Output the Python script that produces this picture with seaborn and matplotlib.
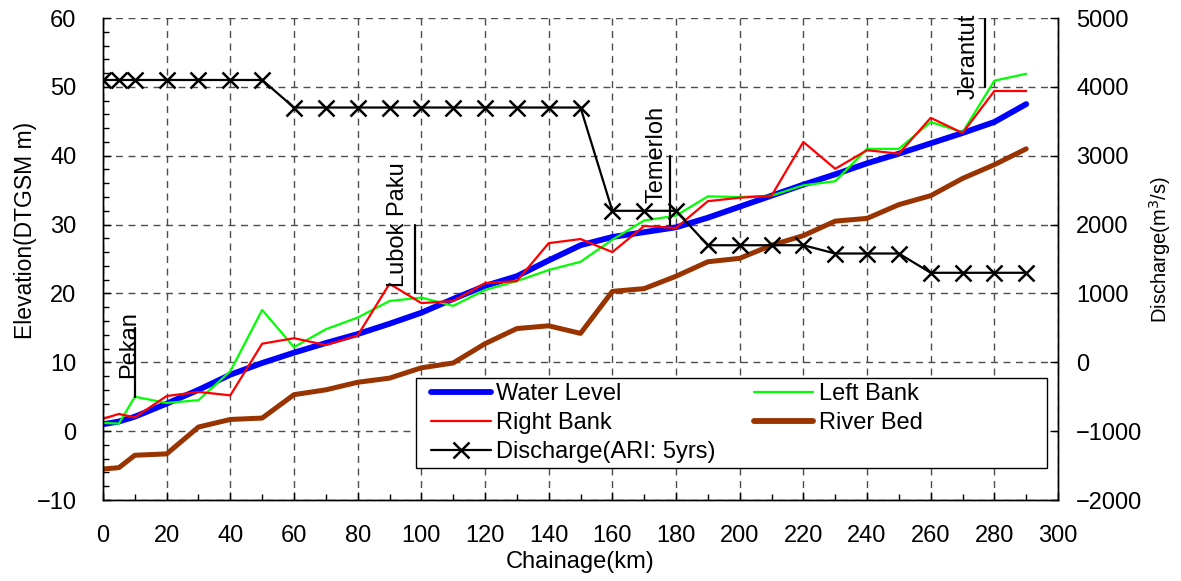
import numpy as np
import pandas as pd
import seaborn as sns
import matplotlib.pyplot as plt
from matplotlib.ticker import MultipleLocator
from matplotlib.lines import Line2D
from matplotlib.patches import Rectangle

# chainage (km) of the cross sections
chainage = [0, 5, 10, 20, 30, 40, 50, 60, 70, 80, 90, 100, 110, 120, 130, 140,
            150, 160, 170, 180, 190, 200, 210, 220, 230, 240, 250, 260, 270, 280, 290]

# elevations (DTGSM m)
water_level = [1.0, 1.4, 2.1, 4.0, 6.0, 8.2, 9.9, 11.4, 12.8, 14.1, 15.6, 17.2, 19.2, 21.1, 22.5, 24.8,
               27.0, 28.2, 28.9, 29.6, 31.0, 32.6, 34.2, 35.8, 37.3, 38.9, 40.3, 41.8, 43.3, 44.9, 47.5]
left_bank = [1.2, 1.1, 5.0, 4.1, 4.5, 8.7, 17.6, 12.2, 14.8, 16.5, 18.9, 19.4, 18.2, 20.5, 21.8, 23.4,
             24.6, 27.8, 30.6, 31.3, 34.1, 34.0, 34.2, 35.7, 36.3, 41.0, 41.0, 44.9, 43.4, 50.9, 51.9]
right_bank = [1.8, 2.5, 2.0, 5.1, 5.7, 5.2, 12.7, 13.5, 12.5, 13.9, 21.4, 18.6, 18.9, 21.5, 21.8, 27.3,
              27.9, 26.0, 29.8, 29.5, 33.4, 33.9, 34.2, 42.0, 38.1, 40.8, 40.3, 45.5, 43.3, 49.4, 49.4]
river_bed = [-5.5, -5.3, -3.5, -3.3, 0.6, 1.7, 1.9, 5.3, 6.0, 7.1, 7.7, 9.2, 9.9, 12.7, 14.9, 15.3,
             14.2, 20.3, 20.7, 22.5, 24.6, 25.1, 27.0, 28.4, 30.5, 30.9, 32.9, 34.2, 36.7, 38.7, 41.0]

# discharge (m3/s), ARI 5 years
discharge = [4100, 4100, 4100, 4100, 4100, 4100, 4100,
             3700, 3700, 3700, 3700, 3700, 3700, 3700, 3700, 3700, 3700,
             2200, 2200, 2200,
             1700, 1700, 1700, 1700,
             1580, 1580, 1580,
             1300, 1300, 1300, 1300]

# towns along the river
stations = ["Pekan", "Lubok Paku", "Temerloh", "Jerantut"]
station_km = [10, 98, 178, 277]
station_base = [5, 20, 30, 50]

df = pd.DataFrame({"Chainage": chainage, "Water Level": water_level, "Left Bank": left_bank,
                   "Right Bank": right_bank, "River Bed": river_bed, "Discharge": discharge})

sns.set_style("ticks")
plt.rcParams['font.family'] = ['Liberation Sans', 'DejaVu Sans']
plt.rcParams['text.color'] = 'black'
plt.rcParams['axes.labelcolor'] = 'black'
plt.rcParams['xtick.color'] = 'black'
plt.rcParams['ytick.color'] = 'black'

fig, ax = plt.subplots(figsize=(11.81, 5.81), dpi=100)
fig.subplots_adjust(left=0.0872, right=0.8959, top=0.969, bottom=0.1394)
ax2 = ax.twinx()

BROWN = "#993300"
sns.lineplot(data=df, x="Chainage", y="Water Level", ax=ax, color="#0000ff", lw=4.2, legend=False)
sns.lineplot(data=df, x="Chainage", y="Left Bank", ax=ax, color="#00ff00", lw=1.6, legend=False)
sns.lineplot(data=df, x="Chainage", y="Right Bank", ax=ax, color="#ff0000", lw=1.6, legend=False)
sns.lineplot(data=df, x="Chainage", y="River Bed", ax=ax, color=BROWN, lw=3.6, legend=False)
sns.lineplot(data=df, x="Chainage", y="Discharge", ax=ax2, color="black", lw=1.6, marker="x",
             markersize=12, markeredgewidth=1.8, markeredgecolor="black", legend=False)

# station markers
text_dx = [-1.8, -5.3, -4.1, -5.2]
text_y = [7.7, 20.9, 33.1, 48.3]
for i in range(len(stations)):
    ax.plot([station_km[i], station_km[i]], [station_base[i], station_base[i] + 10], color="black", lw=1.6)
    ax.text(station_km[i] + text_dx[i], text_y[i], stations[i], rotation=90, ha="center", va="bottom",
            fontsize=17, clip_on=False)

# axes
ax.set_xlim(0, 300)
ax.set_ylim(-10, 60)
ax2.set_ylim(-2000, 5000)
ax.set_xticks(range(0, 301, 20))
ax.set_yticks(range(-10, 61, 10))
ax2.set_yticks(range(-2000, 5001, 1000))
ax.xaxis.set_minor_locator(MultipleLocator(10))
ax.yaxis.set_minor_locator(MultipleLocator(2))

ax.grid(True, which="major", color="0.3", ls=(0, (5, 4)), lw=1)
ax.set_axisbelow(True)

ax.tick_params(which="both", direction="in", color="black", labelsize=17)
ax.tick_params(which="major", length=6, width=1)
ax.tick_params(which="minor", length=4, width=1)
ax.tick_params(axis="x", pad=18)
ax.tick_params(axis="y", pad=19)
ax2.tick_params(axis="y", direction="in", length=6, width=1, pad=13, labelsize=17)

for a in (ax, ax2):
    a.spines["top"].set_visible(False)
    for s in ("left", "right", "bottom"):
        a.spines[s].set_color("black")
        a.spines[s].set_linewidth(1.0)

ax.set_xlabel("Chainage(km)", fontsize=17, labelpad=3)
ax.set_ylabel("Elevation(DTGSM m)", fontsize=16.5)
ax.yaxis.set_label_coords(-0.069, 0.56)
ax2.set_ylabel("Discharge(m$^3$/s)", fontsize=14.5)
ax2.yaxis.set_label_coords(1.093, 0.52)

# legend: frame drawn as a box, entries left aligned inside it
box = Rectangle((0.328, 0.066), 0.66, 0.187, transform=ax2.transAxes, facecolor="white",
                edgecolor="black", lw=1.0, zorder=4)
ax2.add_patch(box)
handles = [
    Line2D([], [], color="#0000ff", lw=4.2),
    Line2D([], [], color="#ff0000", lw=1.6),
    Line2D([], [], color="black", lw=1.6, marker="x", markersize=12, markeredgewidth=1.8),
    Line2D([], [], color="#00ff00", lw=1.6),
    Line2D([], [], color=BROWN, lw=4.2),
]
labels = ["Water Level", "Right Bank", "Discharge(ARI: 5yrs)", "Left Bank", "River Bed"]
leg = ax2.legend(handles, labels, ncol=2, loc="upper left", bbox_to_anchor=(0.339, 0.253),
                 borderaxespad=0, fontsize=17, handlelength=2.5, handletextpad=0.25,
                 labelspacing=0.3, borderpad=0.2, columnspacing=1.6, frameon=False)
leg.set_zorder(5)

plt.savefig("out.png", dpi=100)
plt.close("all")
